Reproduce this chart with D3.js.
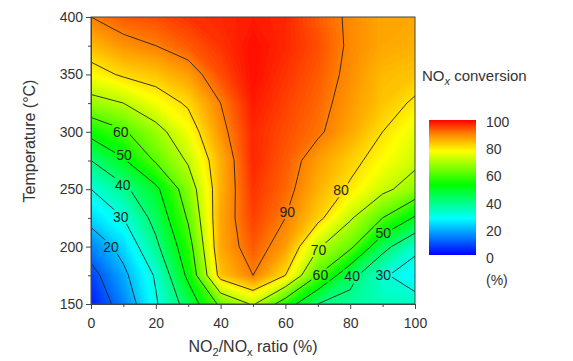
<!DOCTYPE html>
<html><head><meta charset="utf-8">
<script src="https://cdn.jsdelivr.net/npm/d3@7"></script>
<style>body{margin:0;background:#fff} text{font-family:"Liberation Sans",Arial,sans-serif;fill:#333}</style>
</head><body><svg id="c" width="573" height="361"></svg>
<script>
// NO2/NOx ratio (%) columns, temperature (°C) rows (top = 400)
const ratios = [0,10,20,30,40,50,60,70,80,90,100];
const temps = [400,375,350,325,300,275,250,225,200,175,150];
const row400 = [90,93,94,96,97,98,97,93,89,86,86];
const row375 = [84,88,90,93,96,99,97,94,89,86,85];
const row350 = [77,81,83,87,94,99,96,93,88.5,84,83];
const row325 = [67,70,76,81,90,98,95,92,87.5,83,79];
const row300 = [53,59,67,76,88,97,94,91,86,80,75];
const row275 = [40,49,61,71,85,97,93,87,82,77,72];
const row250 = [30,38,48,65,85,96,92,85,79,72,66];
const row225 = [23,30,43,61,86,95,90,82,71,60,49];
const row200 = [14,23,38,56,86,93,87,71,62,43,32];
const row175 = [7,18,31,52,83,90,80,60,43,31,26];
const row150 = [3,14,29,44,62,71,55,40,37,34,33];
const contourLevels = [10,20,30,40,50,60,70,80,90];
const xTicks = [0,20,40,60,80,100];
const xMinor = [10,30,50,70,90];
const yTicks = [150,200,250,300,350,400];
const yMinor = [175,225,275,325,375];
const cbTicks = [0,20,40,60,80,100];
const labelValues = [60,50,40,30,20,90,80,70,60,40,30,50];
const labelRatios = [9.2,10.2,9.8,9.2,6.2,60.6,77.2,70.2,70.8,80.6,90.2,90.2];
const labelTemps  = [300,280,254,226,200,230,249,197,175,174,175,212];
const colorStops = [[0,"#0000ff"],[27,"#00ffff"],[52,"#00ff00"],[77,"#ffff00"],[90,"#ff8000"],[100,"#ff0000"]];

const grid = [].concat(row400,row375,row350,row325,row300,row275,row250,row225,row200,row175,row150);
const nx = ratios.length, ny = temps.length;
const L=91, R=415, T=17, B=304;
const svg = d3.select("#c");
const x = d3.scaleLinear().domain([0,100]).range([L,R]);
const y = d3.scaleLinear().domain([150,400]).range([B,T]);
const color = d3.scaleLinear().domain(colorStops.map(d=>d[0])).range(colorStops.map(d=>d[1])).clamp(true);

const dxStep = ratios[1]-ratios[0], dyStep = temps[0]-temps[1];
const proj = d3.geoTransform({point(cx,cy){
  this.stream.point(x(ratios[0]+(cx-0.5)*dxStep), y(temps[0]-(cy-0.5)*dyStep));
}});
const path = d3.geoPath(proj);

const defs = svg.append("defs");
defs.append("clipPath").attr("id","clip").append("rect").attr("x",L).attr("y",T).attr("width",R-L).attr("height",B-T);

const fillThr = d3.range(0,100.01,0.5);
const fills = d3.contours().size([nx,ny]).thresholds(fillThr)(grid);
const gF = svg.append("g").attr("clip-path","url(#clip)");
gF.append("rect").attr("x",L).attr("y",T).attr("width",R-L).attr("height",B-T).attr("fill",color(0));
gF.selectAll("path").data(fills).join("path").attr("d",path)
  .attr("fill",d=>color(d.value+0.25)).attr("stroke",d=>color(d.value+0.25)).attr("stroke-width",0.3);

// label mask
const mask = defs.append("mask").attr("id","lm");
mask.append("rect").attr("x",0).attr("y",0).attr("width",573).attr("height",361).attr("fill","#fff");
labelValues.forEach((v,i)=>{
  mask.append("rect").attr("x",x(labelRatios[i])-9).attr("y",y(labelTemps[i])-7).attr("width",18).attr("height",14).attr("fill","#000");
});
const lines = d3.contours().size([nx,ny]).thresholds(contourLevels)(grid);
svg.append("g").attr("clip-path","url(#clip)").append("g").attr("mask","url(#lm)")
  .selectAll("path").data(lines).join("path").attr("d",path)
  .attr("fill","none").attr("stroke","#222").attr("stroke-width",0.9);
svg.append("g").selectAll("text").data(labelValues).join("text")
  .attr("x",(d,i)=>x(labelRatios[i])).attr("y",(d,i)=>y(labelTemps[i])+5)
  .attr("text-anchor","middle").attr("font-size",14).style("fill","#222").text(d=>d);

// frame
svg.append("rect").attr("x",L).attr("y",T).attr("width",R-L).attr("height",B-T).attr("fill","none").attr("stroke","#444").attr("stroke-width",1);

// axes
svg.append("g").attr("transform",`translate(0,${B})`)
  .call(d3.axisBottom(x).tickValues(xTicks).tickSize(5).tickPadding(9).tickSizeOuter(0));
svg.append("g").attr("transform",`translate(0,${B})`)
  .call(d3.axisBottom(x).tickValues(xMinor).tickSize(3).tickFormat("").tickSizeOuter(0));
svg.append("g").attr("transform",`translate(${L},0)`)
  .call(d3.axisLeft(y).tickValues(yTicks).tickSize(5).tickPadding(3).tickSizeOuter(0));
svg.append("g").attr("transform",`translate(${L},0)`)
  .call(d3.axisLeft(y).tickValues(yMinor).tickSize(3).tickFormat("").tickSizeOuter(0));
svg.selectAll(".domain").attr("stroke","#444");
svg.selectAll(".tick line").attr("stroke","#444");
svg.selectAll(".tick text").attr("font-size",14).attr("font-family","Liberation Sans, Arial, sans-serif").style("fill","#333");

// axis titles
const xt = svg.append("text").attr("x",(L+R)/2).attr("y",352).attr("text-anchor","middle").attr("font-size",16);
xt.append("tspan").text("NO");
xt.append("tspan").attr("font-size",11).attr("dy",4).text("2");
xt.append("tspan").attr("dy",-4).text("/NO");
xt.append("tspan").attr("font-size",11).attr("dy",4).text("x");
xt.append("tspan").attr("dy",-4).text(" ratio (%)");
svg.append("text").attr("transform","translate(35,141) rotate(-90)").attr("text-anchor","middle").attr("font-size",16).text("Temperature (°C)");

// colorbar
const cbL=429, cbW=47, cbT=120, cbB=255;
const grad = defs.append("linearGradient").attr("id","cg").attr("x1",0).attr("y1",1).attr("x2",0).attr("y2",0);
grad.selectAll("stop").data(colorStops).join("stop").attr("offset",d=>d[0]+"%").attr("stop-color",d=>d[1]);
svg.append("rect").attr("x",cbL).attr("y",cbT).attr("width",cbW).attr("height",cbB-cbT).attr("fill","url(#cg)");
const cy = d3.scaleLinear().domain([0,100]).range([258,122]);
svg.append("g").selectAll("text").data(cbTicks).join("text").attr("x",486).attr("y",d=>cy(d)+5).attr("font-size",14).text(d=>d);
svg.append("text").attr("x",486).attr("y",285).attr("font-size",14).text("(%)");
const ct = svg.append("text").attr("x",422).attr("y",81).attr("font-size",15);
ct.append("tspan").text("NO");
ct.append("tspan").attr("font-size",11).attr("dy",4).attr("font-style","italic").text("x");
ct.append("tspan").attr("dy",-4).text(" conversion");
</script></body></html>
